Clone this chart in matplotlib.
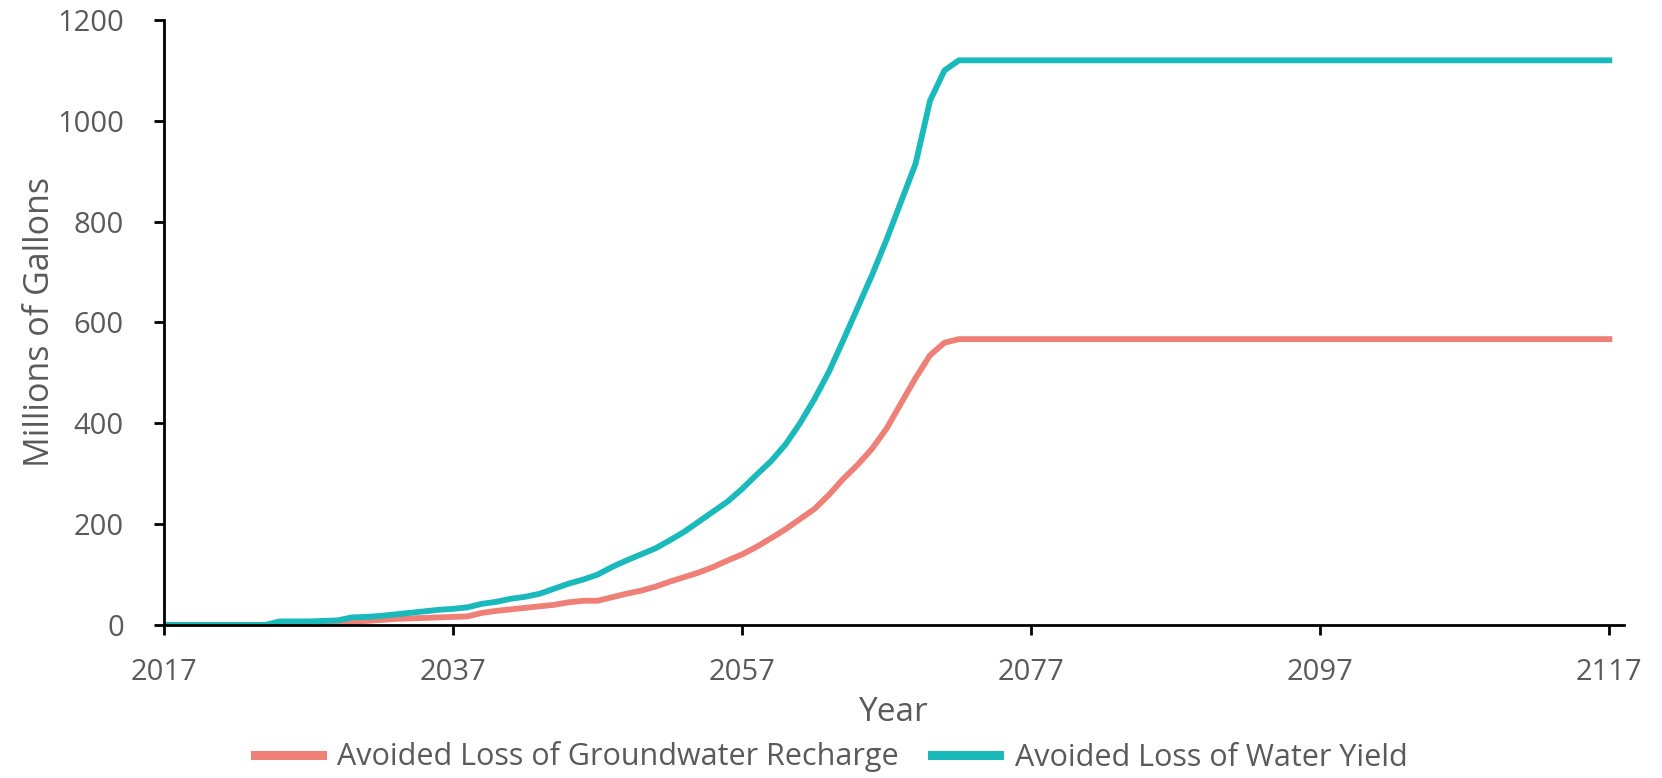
import matplotlib
matplotlib.use("Agg")
import matplotlib.pyplot as plt
import numpy as np

years = list(range(2017, 2118))

water_yield_head = [0, 0, 0, 0, 0, 0, 0, 0,          # 2017-2024
                    7, 7, 7, 8, 9, 15, 16, 18, 21, 24,  # 2025-2034
                    27, 30, 32, 35, 42, 46, 52, 56, 62, 72,  # 2035-2044
                    82, 90, 100, 115, 128, 140, 152, 168, 185, 205,  # 2045-2054
                    225, 245, 270, 298, 325, 358, 400, 448, 502, 565,  # 2055-2064
                    630, 695, 765, 840, 915, 1040, 1100, 1120]  # 2065-2072
water_yield = water_yield_head + [1120] * (len(years) - len(water_yield_head))

recharge_head = [0, 0, 0, 0, 0, 0, 0, 0,            # 2017-2024
                 1, 1, 2, 3, 4, 5, 8, 10, 12, 13,    # 2025-2034
                 14, 15, 16, 17, 24, 28, 31, 34, 37, 40,  # 2035-2044
                 45, 48, 48, 55, 62, 68, 76, 86, 95, 104,  # 2045-2054
                 115, 128, 140, 155, 172, 190, 210, 230, 258, 290,  # 2055-2064
                 318, 350, 390, 440, 490, 535, 560, 567]  # 2065-2072
recharge = recharge_head + [567] * (len(years) - len(recharge_head))

series_labels = ["Avoided Loss of Groundwater Recharge", "Avoided Loss of Water Yield"]
x_ticks = [2017, 2037, 2057, 2077, 2097, 2117]
y_ticks = [0, 200, 400, 600, 800, 1000, 1200]

plt.rcParams['font.family'] = ['Open Sans', 'DejaVu Sans']
gray = "#5a5a5a"
salmon = "#EF8078"
teal = "#19B9BC"

fig = plt.figure(figsize=(16.62, 7.78), dpi=100)
ax = fig.add_axes([0.0987, 0.1967, 0.8783, 0.7776])

ax.plot(years, recharge, color=salmon, lw=4.2, solid_joinstyle='round', label=series_labels[0])
ax.plot(years, water_yield, color=teal, lw=4.2, solid_joinstyle='round', label=series_labels[1])

ax.set_xlim(2017, 2118)
ax.set_ylim(0, 1200)
ax.set_xticks(x_ticks)
ax.set_yticks(y_ticks)
for s in ['top', 'right']:
    ax.spines[s].set_visible(False)
for s in ['left', 'bottom']:
    ax.spines[s].set_linewidth(2)
    ax.spines[s].set_color('black')
ax.tick_params(axis='both', colors='black', width=2, length=7, labelsize=21, labelcolor=gray)
ax.tick_params(axis='x', pad=17)
ax.tick_params(axis='y', pad=22)
ax.set_xlabel("Year", fontsize=24, color=gray, labelpad=6)
ax.set_ylabel("Millions of Gallons", fontsize=24.5, color=gray, labelpad=0)

leg = fig.legend(loc='center', bbox_to_anchor=(0.5, 1 - 757 / 778), ncol=2, frameon=False,
                 fontsize=22, handlelength=2.2, columnspacing=1.1, handletextpad=0.5)
for t in leg.get_texts():
    t.set_color(gray)
for h in leg.get_lines():
    h.set_linewidth(6.5)

fig.savefig("out.png", dpi=100)
